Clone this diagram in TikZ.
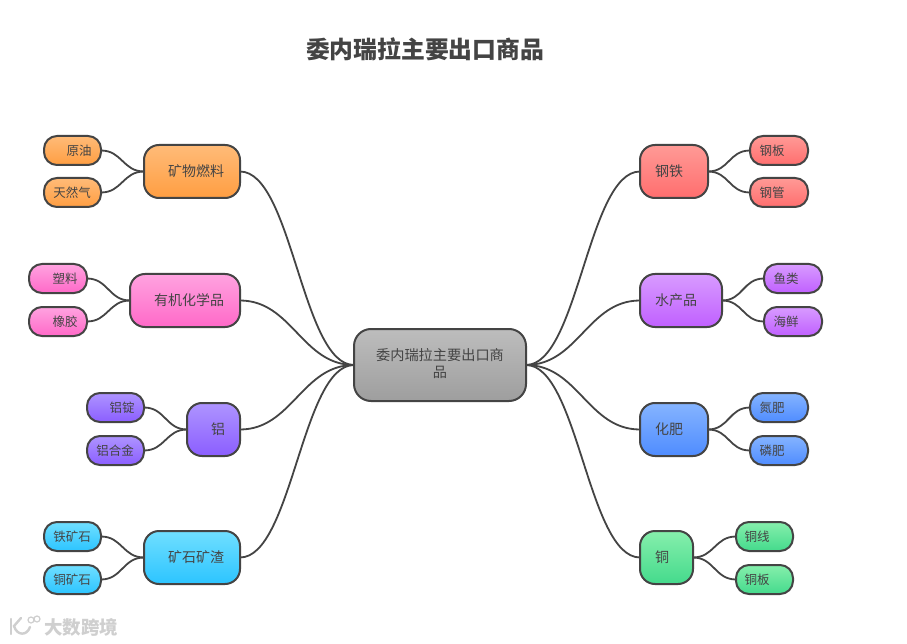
\documentclass[tikz,border=0pt]{standalone}
\usepackage{fontspec}
\setmainfont{Noto Sans CJK SC}
\newcommand{\mm}[9]{%
  \node[#7, #9, minimum width=#4pt, minimum height=#5pt] (#1) at (#2,#3) {};
  \node[txt, font=\fontsize{#8}{#8}\selectfont] (#1t) at (#6,#3) {\csname lbl#1\endcsname};
}
\newcommand{\setl}[2]{\expandafter\def\csname lbl#1\endcsname{#2}}
\begin{document}
\begin{tikzpicture}[x=1pt,y=-1pt,
  box/.style={draw=edge, line width=2pt, inner sep=0pt, outer sep=0pt},
  big/.style={box, rounded corners=15pt},
  small/.style={box, rounded corners=13pt},
  txt/.style={text=ink, inner sep=0pt},
  link/.style={draw=edge, line width=1.8pt},
  orange/.style={top color=orT, bottom color=orB},
  pinkc/.style={top color=piT, bottom color=piB},
  purp/.style={top color=puT, bottom color=puB},
  cyanc/.style={top color=cyT, bottom color=cyB},
  redc/.style={top color=reT, bottom color=reB},
  viol/.style={top color=viT, bottom color=viB},
  bluec/.style={top color=blT, bottom color=blB},
  greenc/.style={top color=grT, bottom color=grB},
  grayc/.style={top color=gyT, bottom color=gyB}]
\definecolor{edge}{HTML}{444444}\definecolor{ink}{HTML}{444444}
\definecolor{orT}{HTML}{FFBB78}\definecolor{orB}{HTML}{FF9E42}
\definecolor{piT}{HTML}{FFA3E0}\definecolor{piB}{HTML}{FF69C8}
\definecolor{puT}{HTML}{AE94FF}\definecolor{puB}{HTML}{8B5EFF}
\definecolor{cyT}{HTML}{70DFFF}\definecolor{cyB}{HTML}{2CC4FF}
\definecolor{reT}{HTML}{FF9A96}\definecolor{reB}{HTML}{FF6E6E}
\definecolor{viT}{HTML}{D89BFF}\definecolor{viB}{HTML}{C060FF}
\definecolor{blT}{HTML}{85B4FF}\definecolor{blB}{HTML}{4F8CFF}
\definecolor{grT}{HTML}{86EFAC}\definecolor{grB}{HTML}{44DA8C}
\definecolor{gyT}{HTML}{BDBDBD}\definecolor{gyB}{HTML}{9E9E9E}
\definecolor{wm}{HTML}{CFCFCF}
\useasboundingbox (0,0) rectangle (907,644);
\fill[white] (0,0) rectangle (907,644);

\node[font=\fontsize{23.8}{24}\selectfont\bfseries, text=ink, inner sep=0pt] (title) at (425,49) {委内瑞拉主要出口商品};

\node[box, grayc, rounded corners=17pt, minimum width=172pt, minimum height=72pt] (root) at (440,365) {};
\node[txt, font=\fontsize{14.2}{17}\selectfont, align=center] (roott) at (440,364) {委内瑞拉主要出口商\\品};

\setl{a}{矿物燃料}\setl{a1}{原油}\setl{a2}{天然气}
\setl{b}{有机化学品}\setl{b1}{塑料}\setl{b2}{橡胶}
\setl{c}{铝}\setl{c1}{铝锭}\setl{c2}{铝合金}
\setl{d}{矿石矿渣}\setl{d1}{铁矿石}\setl{d2}{铜矿石}
\setl{e}{钢铁}\setl{e1}{钢板}\setl{e2}{钢管}
\setl{f}{水产品}\setl{f1}{鱼类}\setl{f2}{海鲜}
\setl{g}{化肥}\setl{g1}{氮肥}\setl{g2}{磷肥}
\setl{h}{铜}\setl{h1}{铜线}\setl{h2}{铜板}

\mm{a}{192}{171.5}{96}{53}{196}{big,orange}{14}{}
\mm{a1}{72.5}{150.5}{57}{29}{79}{small,orange}{12.5}{}
\mm{a2}{72.5}{192.5}{57}{29}{72}{small,orange}{12.5}{}
\mm{b}{185}{300.5}{110}{53}{189}{big,pinkc}{14}{}
\mm{b1}{58}{278.5}{58}{29}{65}{small,pinkc}{12.5}{}
\mm{b2}{58}{321.5}{58}{29}{65}{small,pinkc}{12.5}{}
\mm{c}{213.5}{429.5}{53}{53}{218}{big,purp}{14}{}
\mm{c1}{115.5}{407.5}{57}{29}{122}{small,purp}{12.5}{}
\mm{c2}{115.5}{450.5}{57}{29}{115}{small,purp}{12.5}{}
\mm{d}{192}{557.5}{96}{53}{196}{big,cyanc}{14}{}
\mm{d1}{72.5}{536.5}{57}{29}{72}{small,cyanc}{12.5}{}
\mm{d2}{72.5}{579.5}{57}{29}{72}{small,cyanc}{12.5}{}
\mm{e}{674}{171.5}{68}{53}{669}{big,redc}{14}{}
\mm{e1}{779}{150.5}{58}{29}{772}{small,redc}{12.5}{}
\mm{e2}{779}{192.5}{58}{29}{772}{small,redc}{12.5}{}
\mm{f}{681}{300.5}{82}{53}{676}{big,viol}{14}{}
\mm{f1}{793}{278.5}{58}{29}{786}{small,viol}{12.5}{}
\mm{f2}{793}{321.5}{58}{29}{786}{small,viol}{12.5}{}
\mm{g}{674}{429.5}{68}{53}{669}{big,bluec}{14}{}
\mm{g1}{779}{407.5}{58}{29}{772}{small,bluec}{12.5}{}
\mm{g2}{779}{450.5}{58}{29}{772}{small,bluec}{12.5}{}
\mm{h}{666.5}{557.5}{53}{53}{662}{big,greenc}{14}{}
\mm{h1}{764.5}{536.5}{57}{29}{757}{small,greenc}{12.5}{}
\mm{h2}{764.5}{579.5}{57}{29}{757}{small,greenc}{12.5}{}

% root to main branches
\foreach \n/\dx in {a/52,b/52,c/52,d/52}
  \draw[link] (root.west) .. controls +(-\dx,0) and +(\dx,0) .. (\n.east);
\foreach \n/\dx in {e/52,f/52,g/52,h/52}
  \draw[link] (root.east) .. controls +(\dx,0) and +(-\dx,0) .. (\n.west);
% branches to leaves
\foreach \p/\ca/\cb in {a/a1/a2,b/b1/b2,c/c1/c2,d/d1/d2}{
  \draw[link] (\p.west) .. controls +(-21,0) and +(21,0) .. (\ca.east);
  \draw[link] (\p.west) .. controls +(-21,0) and +(21,0) .. (\cb.east);
}
\foreach \p/\ca/\cb in {e/e1/e2,f/f1/f2,g/g1/g2,h/h1/h2}{
  \draw[link] (\p.east) .. controls +(21,0) and +(-21,0) .. (\ca.west);
  \draw[link] (\p.east) .. controls +(21,0) and +(-21,0) .. (\cb.west);
}

% watermark
\node[font=\fontsize{18.5}{18}\selectfont\bfseries, text=wm, inner sep=0pt] (wmark) at (81,627) {大数跨境};
\draw[wm, line width=2.4pt, line cap=round] (11,619) -- (11,634);
\draw[wm, line width=2.4pt, line cap=round] (21,618) -- (14,626) .. controls (17,636) and (27,636) .. (30,627);
\draw[wm, line width=1.2pt] (31,620) circle (3pt) (37,619) circle (3pt);
\end{tikzpicture}
\end{document}
